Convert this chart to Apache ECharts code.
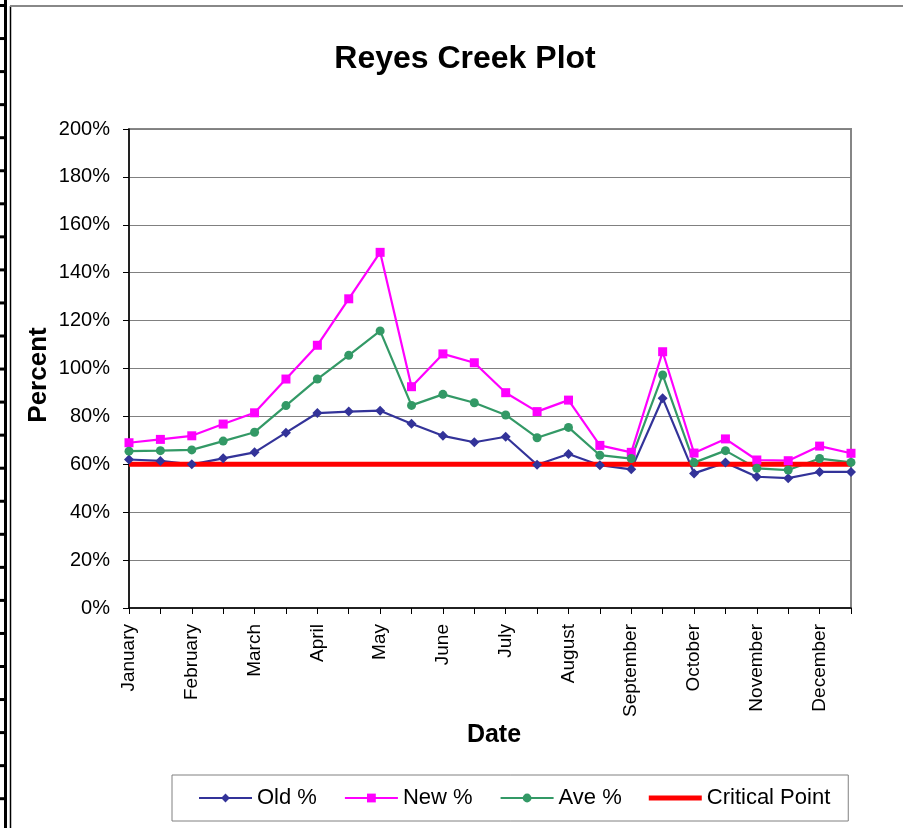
<!DOCTYPE html>
<html>
<head>
<meta charset="UTF-8">
<title>Reyes Creek Plot</title>
<script src="https://cdn.jsdelivr.net/npm/echarts@6/dist/echarts.min.js"></script>
<style>
html, body { margin: 0; padding: 0; background: #fff; }
#main { width: 903px; height: 828px; }
</style>
</head>
<body>
<div id="main"></div>
<script type="text/javascript">
// two readings per month, only the first one gets a label
var months = ['January', 'February', 'March', 'April', 'May', 'June',
              'July', 'August', 'September', 'October', 'November', 'December'];
var dates = [];
for (var m = 0; m < months.length; m++) {
    dates.push(months[m] + ' 1');
    dates.push(months[m] + ' 15');
}

var oldPct = [62.0, 61.4, 60.0, 62.5, 65.0, 73.2, 81.4, 82.0, 82.4, 76.9, 71.9, 69.2,
              71.5, 59.8, 64.3, 59.6, 57.9, 87.6, 56.2, 60.7, 54.8, 54.2, 56.8, 56.8];
var newPct = [69.0, 70.4, 71.9, 76.8, 81.5, 95.6, 109.7, 129.1, 148.5, 92.4, 106.1, 102.4,
              89.9, 82.0, 86.8, 67.9, 65.0, 107.0, 64.7, 70.6, 61.8, 61.5, 67.6, 64.6];
var avePct = [65.5, 65.7, 66.0, 69.7, 73.4, 84.5, 95.6, 105.5, 115.7, 84.6, 89.2, 85.7,
              80.6, 71.1, 75.4, 63.8, 62.4, 97.3, 60.7, 65.7, 58.3, 57.6, 62.4, 60.8];
var criticalPct = [60, 60, 60, 60, 60, 60, 60, 60, 60, 60, 60, 60,
                   60, 60, 60, 60, 60, 60, 60, 60, 60, 60, 60, 60];

var font = 'Liberation Sans, Arial, sans-serif';
var myChart = echarts.init(document.getElementById('main'));

// spreadsheet edge on the left of the picture, and the axis titles
var extras = [
    { type: 'rect', shape: { x: 4, y: 0, width: 3, height: 828 }, style: { fill: '#000' } },
    { type: 'line', shape: { x1: 10.5, y1: 6, x2: 10.5, y2: 828 }, style: { stroke: '#000', lineWidth: 1.5 } },
    { type: 'line', shape: { x1: 10, y1: 6, x2: 903, y2: 6 }, style: { stroke: '#888', lineWidth: 2 } },
    {
        type: 'text', x: 39, y: 375, rotation: Math.PI / 2,
        style: { text: 'Percent', font: 'bold 26px ' + font, fill: '#000', align: 'center', verticalAlign: 'middle' }
    },
    {
        type: 'text', x: 494, y: 735,
        style: { text: 'Date', font: 'bold 25px ' + font, fill: '#000', align: 'center', verticalAlign: 'middle' }
    }
];
for (var k = 0; k < 26; k++) {
    extras.push({ type: 'rect', shape: { x: 0, y: 4 + k * 33.05, width: 5, height: 3 }, style: { fill: '#000' } });
}

var option = {
    backgroundColor: '#fff',
    animation: false,
    title: {
        text: 'Reyes Creek Plot',
        left: 460,
        textAlign: 'center',
        top: 38,
        textStyle: { fontFamily: font, fontSize: 32, fontWeight: 'bold', color: '#000' }
    },
    graphic: extras,
    legend: {
        left: 172,
        top: 775,
        padding: [12, 18, 12, 26],
        itemGap: 27,
        itemWidth: 53,
        itemHeight: 11,
        borderColor: '#808080',
        borderWidth: 1,
        textStyle: { fontFamily: font, fontSize: 22, color: '#000' },
        data: ['Old %', 'New %', 'Ave %',
               { name: 'Critical Point', icon: 'path://M0,0H53V5H0Z' }]
    },
    grid: {
        left: 129,
        right: 52,
        top: 129,
        bottom: 220,
        show: true,
        borderColor: '#868686',
        borderWidth: 2
    },
    xAxis: {
        type: 'category',
        data: dates,
        boundaryGap: false,
        axisLine: { lineStyle: { color: '#000', width: 1.5 } },
        axisTick: { show: true, interval: 0, length: 6, lineStyle: { color: '#000' } },
        axisLabel: {
            interval: 0,
            rotate: 90,
            margin: 16,
            fontFamily: font,
            fontSize: 19,
            color: '#000',
            formatter: function (value, idx) {
                return idx % 2 === 0 ? months[idx / 2] : '';
            }
        }
    },
    yAxis: {
        type: 'value',
        min: 0,
        max: 200,
        interval: 20,
        axisLine: { show: true, lineStyle: { color: '#000', width: 1.5 } },
        axisTick: { show: true, length: 6, lineStyle: { color: '#000' } },
        axisLabel: { formatter: '{value}%', margin: 19, fontFamily: font, fontSize: 20, color: '#000' },
        splitLine: { lineStyle: { color: '#808080', width: 1 } }
    },
    series: [
        {
            name: 'Old %',
            type: 'line',
            data: oldPct,
            symbol: 'diamond',
            symbolSize: 10,
            color: '#333399',
            lineStyle: { width: 2.2 }
        },
        {
            name: 'New %',
            type: 'line',
            data: newPct,
            symbol: 'rect',
            symbolSize: 9,
            color: '#ff00ff',
            lineStyle: { width: 2.2 }
        },
        {
            name: 'Ave %',
            type: 'line',
            data: avePct,
            symbol: 'circle',
            symbolSize: 9,
            color: '#339966',
            lineStyle: { width: 2.2 }
        },
        {
            name: 'Critical Point',
            type: 'line',
            data: criticalPct,
            symbol: 'none',
            color: '#ff0000',
            lineStyle: { width: 5 }
        }
    ]
};

myChart.setOption(option);
</script>
</body>
</html>
